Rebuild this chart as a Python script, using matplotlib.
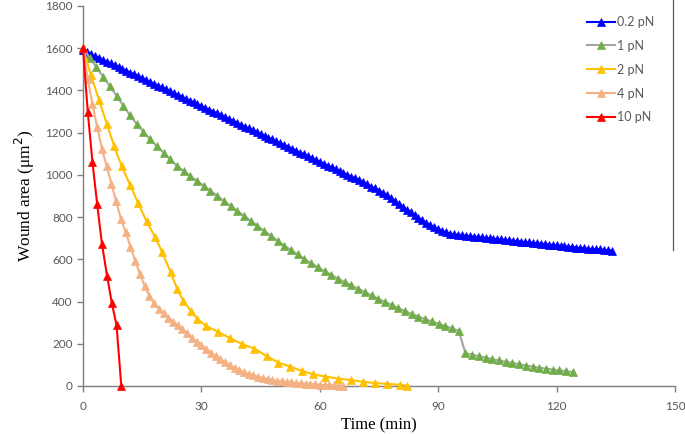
import matplotlib
matplotlib.use("Agg")
import matplotlib.pyplot as plt
from matplotlib.lines import Line2D

# ---------------- data ----------------
labels = ["0.2 pN", "1 pN", "2 pN", "4 pN", "10 pN"]

t_02 = [0, 1, 2, 3, 4, 5, 6, 7, 8, 9, 10, 11, 12, 13, 14, 15, 16, 17, 18, 19,
        20, 21, 22, 23, 24, 25, 26, 27, 28, 29, 30, 31, 32, 33, 34, 35, 36, 37, 38, 39,
        40, 41, 42, 43, 44, 45, 46, 47, 48, 49, 50, 51, 52, 53, 54, 55, 56, 57, 58, 59,
        60, 61, 62, 63, 64, 65, 66, 67, 68, 69, 70, 71, 72, 73, 74, 75, 76, 77, 78, 79,
        80, 81, 82, 83, 84, 85, 86, 87, 88, 89, 90, 91, 92, 93, 94, 95, 96, 97, 98, 99,
        100, 101, 102, 103, 104, 105, 106, 107, 108, 109, 110, 111, 112, 113, 114, 115,
        116, 117, 118, 119, 120, 121, 122, 123, 124, 125, 126, 127, 128, 129, 130, 131,
        132, 133, 134]
a_02 = [1590, 1581, 1572, 1563, 1555, 1546, 1537, 1528, 1520, 1511, 1502, 1493, 1484,
        1476, 1467, 1458, 1449, 1440, 1432, 1423, 1414, 1405, 1396, 1388, 1379, 1370,
        1361, 1352, 1344, 1335, 1326, 1317, 1308, 1300, 1291, 1282, 1273, 1264, 1256,
        1247, 1238, 1229, 1220, 1212, 1203, 1194, 1185, 1176, 1168, 1159, 1150, 1141,
        1132, 1124, 1115, 1106, 1097, 1088, 1080, 1071, 1062, 1053, 1044, 1036, 1027,
        1018, 1009, 1000, 992, 983, 974, 964, 955, 945, 936, 926, 915, 903, 890, 877,
        864, 850, 836, 823, 810, 797, 784, 772, 762, 752, 743, 735, 728, 722, 719, 716,
        714, 712, 710, 708, 706, 704, 702, 700, 698, 696, 694, 692, 690, 688, 686, 684,
        682, 680, 678, 676, 674, 672, 670, 668, 666, 664, 662, 660, 658, 656, 654, 652,
        650, 649, 648, 647, 645, 643, 641]

t_1 = [0, 1.7, 3.4, 5.1, 6.8, 8.5, 10.2, 11.9, 13.6, 15.3, 17.0, 18.7, 20.4, 22.1,
       23.8, 25.5, 27.2, 28.9, 30.6, 32.3, 34.0, 35.7, 37.4, 39.1, 40.8, 42.5, 44.2,
       45.9, 47.6, 49.3, 51.0, 52.7, 54.4, 56.1, 57.8, 59.5, 61.2, 62.9, 64.6, 66.3,
       68.0, 69.7, 71.4, 73.1, 74.8, 76.5, 78.2, 79.9, 81.6, 83.3, 85.0, 86.7, 88.4,
       90.1, 91.8, 93.5, 95.2, 96.9, 98.6, 100.3, 102.0, 103.7, 105.4, 107.1, 108.8,
       110.5, 112.2, 113.9, 115.6, 117.3, 119.0, 120.7, 122.4, 124.1]
a_1 = [1600, 1555, 1510, 1465, 1420, 1375, 1328, 1282, 1242, 1205, 1168, 1136, 1105,
       1073, 1043, 1018, 994, 971, 949, 925, 901, 877, 853, 830, 806, 783, 759, 735,
       712, 688, 665, 644, 623, 602, 582, 562, 544, 526, 509, 492, 477, 461, 445, 429,
       413, 398, 384, 369, 355, 341, 329, 317, 306, 295, 284, 273, 262, 155, 148, 141,
       134, 127, 121, 115, 109, 103, 97, 92, 87, 82, 78, 74, 70, 66]

t_2 = [0, 2.0, 4.1, 6.0, 7.9, 9.8, 11.9, 14.0, 16.1, 18.3, 20.1, 22.2, 23.9, 25.4,
       27.3, 29.0, 31.1, 34.1, 37.3, 40.4, 43.4, 46.6, 49.5, 52.5, 55.5, 58.4, 61.4,
       64.7, 67.9, 70.9, 74.0, 77.1, 80.2, 82.0]
a_2 = [1600, 1473, 1353, 1243, 1136, 1041, 954, 865, 780, 704, 633, 538, 459, 404,
       356, 317, 285, 258, 226, 198, 177, 141, 111, 92, 71, 55, 45, 35, 28, 20, 14,
       10, 6, 2]

t_4 = [0, 1.2, 2.4, 3.6, 4.8, 6.0, 7.2, 8.4, 9.6, 10.8, 12.0, 13.2, 14.4, 15.6, 16.8,
       18.0, 19.2, 20.4, 21.6, 22.8, 24.0, 25.2, 26.4, 27.6, 28.8, 30.0, 31.2, 32.4,
       33.6, 34.8, 36.0, 37.2, 38.4, 39.6, 40.8, 42.0, 43.2, 44.4, 45.6, 46.8, 48.0,
       49.2, 50.4, 51.6, 52.8, 54.0, 55.2, 56.4, 57.6, 58.8, 60.0, 61.2, 62.4, 63.6,
       64.8, 66.0]
a_4 = [1600, 1455, 1335, 1225, 1125, 1040, 958, 875, 792, 730, 660, 594, 532, 476,
       426, 392, 366, 345, 323, 305, 287, 268, 249, 229, 210, 192, 174, 158, 143, 128,
       113, 99, 86, 75, 65, 57, 50, 43, 38, 33, 28, 25, 22, 19, 17, 15, 13, 11, 9, 8,
       6, 5, 4, 3, 2, 1]

t_10 = [0, 1.2, 2.4, 3.6, 4.8, 6.1, 7.3, 8.5, 9.7]
a_10 = [1600, 1300, 1060, 860, 673, 522, 393, 288, 0]

x_ticks = [0, 30, 60, 90, 120, 150]
y_ticks = [0, 200, 400, 600, 800, 1000, 1200, 1400, 1600, 1800]

# ---------------- style ----------------
line_colors = ["#0000FF", "#A5A5A5", "#FFC000", "#F4B183", "#FF0000"]
marker_colors = ["#0000FF", "#70AD47", "#FFC000", "#F4B183", "#FF0000"]
series = [(t_02, a_02), (t_1, a_1), (t_2, a_2), (t_4, a_4), (t_10, a_10)]

fig = plt.figure(figsize=(6.85, 4.34), dpi=100)
ax = fig.add_axes([83 / 685, 1 - 386 / 434, (675 - 83) / 685, (386 - 6) / 434])

handles = []
for (t, a), lc, mc, lab in zip(series, line_colors, marker_colors, labels):
    h, = ax.plot(t, a, color=lc, lw=1.5, marker="^", markersize=6,
                 markerfacecolor=mc, markeredgecolor=mc, markeredgewidth=0.5,
                 label=lab, clip_on=False, zorder=3)
    handles.append(h)

ax.set_xlim(0, 150)
ax.set_ylim(0, 1800)
ax.set_xticks(x_ticks)
ax.set_yticks(y_ticks)

tick_col = "#595959"
for s in ["top", "right"]:
    ax.spines[s].set_visible(False)
for s in ["left", "bottom"]:
    ax.spines[s].set_color("#7F7F7F")
    ax.spines[s].set_linewidth(1.0)
ax.tick_params(axis="both", direction="out", length=4, width=1.0, color="#7F7F7F",
               labelcolor=tick_col, labelsize=8.5)
for lbl in ax.get_xticklabels() + ax.get_yticklabels():
    lbl.set_family(["Lato", "DejaVu Sans"])
ax.tick_params(axis="x", pad=7)

ax.set_xlabel("Time (min)", family="Liberation Serif", fontsize=12, labelpad=4)
ax.set_ylabel("Wound area (μm$^{2}$)", family="Liberation Serif", fontsize=12.5, labelpad=6)

leg = ax.legend(handles=handles, loc="upper left", bbox_to_anchor=(0.843, 0.987),
                frameon=False, fontsize=9, handlelength=2.2, handletextpad=0.2,
                labelspacing=0.95, borderaxespad=0)
for txt in leg.get_texts():
    txt.set_color(tick_col)
    txt.set_family(["Lato", "DejaVu Sans"])

# right frame line seen at top-right of the chart
fig.add_artist(Line2D([673 / 685, 673 / 685], [1.0, 1 - 250 / 434],
                      color="#595959", lw=0.9, transform=fig.transFigure))

fig.savefig("out.png", dpi=100)
